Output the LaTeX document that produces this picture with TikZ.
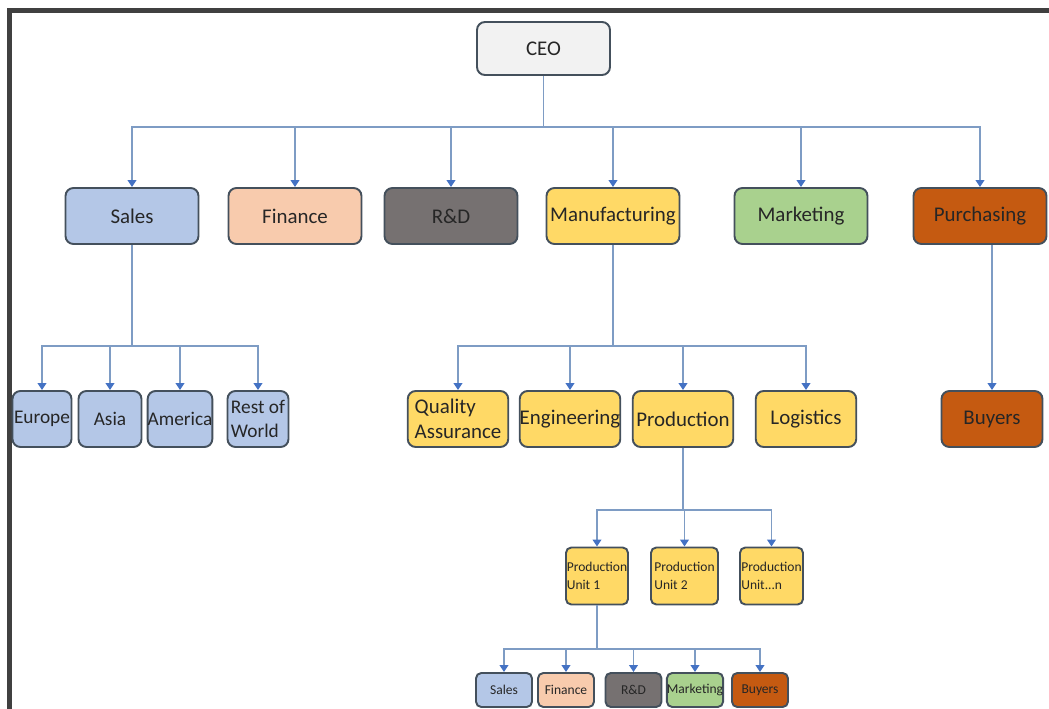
\documentclass[tikz,border=0pt]{standalone}
\usepackage{fontspec}
\setmainfont{Carlito}
\usetikzlibrary{arrows.meta}

\definecolor{salesblue}{HTML}{B4C7E7}
\definecolor{financeorange}{HTML}{F8CBAD}
\definecolor{rdgray}{HTML}{767171}
\definecolor{manuyellow}{HTML}{FFD966}
\definecolor{marketgreen}{HTML}{A9D18E}
\definecolor{purchbrown}{HTML}{C55A11}
\definecolor{ceogray}{HTML}{F2F2F2}
\definecolor{boxline}{HTML}{44505C}
\definecolor{linkblue}{HTML}{7E9CC4}
\definecolor{tipblue}{HTML}{4472C4}
\definecolor{framegray}{HTML}{404040}

\begin{document}
\begin{tikzpicture}[x=0.02cm, y=-0.02cm, % 1 Einheit = 1 Pixel
  box/.style={draw=boxline, line width=1.1pt, rounded corners=4.5pt, inner sep=1pt,
    text=black!85, align=left, font=\fontsize{11.9}{14}\selectfont},
  dept/.style={box, minimum width=2.66cm, minimum height=1.12cm},
  subbox/.style={box, inner xsep=0pt, minimum height=1.12cm},
  smallbox/.style={box, rounded corners=3pt, inner xsep=0pt, font=\fontsize{7.7}{10.5}\selectfont},
  link/.style={draw=linkblue, line width=0.85pt},
  arr/.style={link, -{Triangle[width=5pt, length=4pt, color=tipblue]}}]

\useasboundingbox (0,0) rectangle (1049,709);

% Rahmen oben und links
\draw[line width=2.8pt, framegray] (9.5,709) -- (9.5,10.5) -- (1049,10.5);

% CEO ganz oben
\node[box, fill=ceogray, minimum width=2.66cm, minimum height=1.06cm] (ceo) at (543.5,48.5) {CEO};

% Erste Ebene: Abteilungen
\foreach \name/\lab/\x/\col in {sales/Sales/132/salesblue, finance/Finance/295/financeorange,
    rd/R\&D/451/rdgray, manu/Manufacturing/613/manuyellow,
    marketing/Marketing/801/marketgreen, purch/Purchasing/980/purchbrown} {
  \node[dept, fill=\col] (\name) at (\x,216) {\lab};
}

\coordinate (ceobus) at (0,127);
\draw[link] (ceo.south) -- (ceo.south |- ceobus);
\foreach \name in {sales,finance,rd,manu,marketing,purch} {
  \draw[arr] (ceo.south |- ceobus) -| (\name.north);
}

% Sales: Regionen
\foreach \name/\lab/\x/\w in {europe/Europe/42/1.18cm, asia/Asia/110/1.26cm,
    america/America/180/1.26cm, restworld/{Rest of\\World}/258/1.22cm} {
  \node[subbox, fill=salesblue, minimum width=\w, font=\fontsize{11}{13.6}\selectfont] (\name) at (\x,419) {\lab};
}

\coordinate (salesbus) at (0,346);
\draw[link] (sales.south) -- (sales.south |- salesbus);
\foreach \name in {europe,asia,america,restworld} {
  \draw[arr] (sales.south |- salesbus) -| (\name.north);
}

% Manufacturing: Bereiche
\foreach \name/\lab/\x in {qa/{Quality\\Assurance}/458, eng/Engineering/570,
    prod/Production/683, logistics/Logistics/806} {
  \node[subbox, fill=manuyellow, minimum width=2.01cm] (\name) at (\x,419) {\lab};
}

\coordinate (manubus) at (0,346);
\draw[link] (manu.south) -- (manu.south |- manubus);
\foreach \name in {qa,eng,prod,logistics} {
  \draw[arr] (manu.south |- manubus) -| (\name.north);
}

% Purchasing: Buyers
\node[subbox, fill=purchbrown, minimum width=2.02cm] (buyers) at (992,419) {Buyers};
\draw[arr] (buyers.north |- purch.south) -- (buyers.north);

% Production: Einheiten
\foreach \name/\lab/\x/\w in {unitone/{Production\\Unit 1}/597/1.24cm,
    unittwo/{Production\\Unit 2}/684.5/1.34cm, unitn/{Production\\Unit...n}/771.5/1.26cm} {
  \node[smallbox, fill=manuyellow, minimum width=\w, minimum height=1.14cm] (\name) at (\x,576) {\lab};
}

\coordinate (prodbus) at (0,510);
\draw[link] (prod.south) -- (prod.south |- prodbus);
\foreach \name in {unitone,unittwo,unitn} {
  \draw[arr] (prod.south |- prodbus) -| (\name.north);
}

% Unterste Zeile unter Production Unit 1
\foreach \name/\lab/\x/\col in {bsales/Sales/504/salesblue, bfinance/Finance/566/financeorange,
    brd/R\&D/633.5/rdgray, bmarketing/Marketing/695/marketgreen, bbuyers/Buyers/760/purchbrown} {
  \node[smallbox, fill=\col, minimum width=1.12cm, minimum height=0.68cm] (\name) at (\x,690) {\lab};
}

\coordinate (unitbus) at (0,649);
\draw[link] (unitone.south) -- (unitone.south |- unitbus);
\foreach \name in {bsales,bfinance,brd,bmarketing,bbuyers} {
  \draw[arr] (unitone.south |- unitbus) -| (\name.north);
}

\end{tikzpicture}
\end{document}
